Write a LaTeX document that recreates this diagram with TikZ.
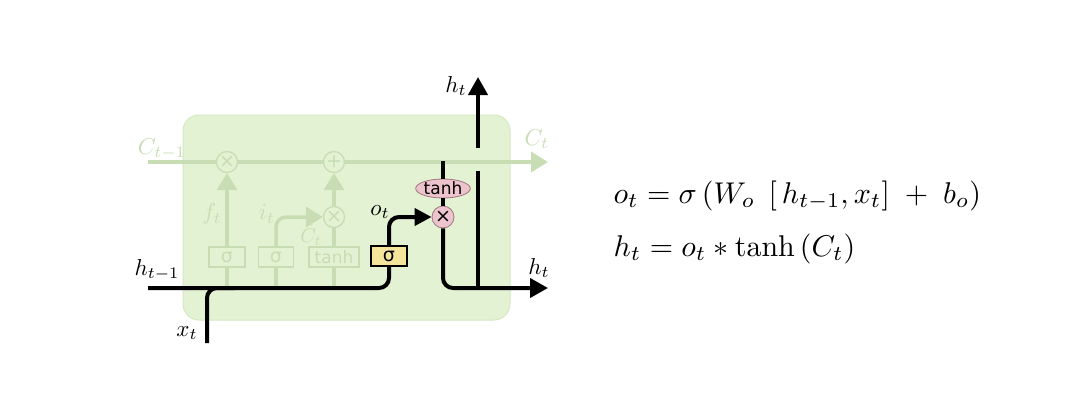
\documentclass[tikz,border=0pt]{standalone}
\usepackage{fontspec}
\newfontfamily\dv{DejaVu Sans}
\usetikzlibrary{arrows.meta,shapes.geometric}
\definecolor{cellfill}{HTML}{E3F2D3}
\definecolor{cellborder}{HTML}{D5E8C2}
\definecolor{fadecol}{HTML}{C8DDB4}
\definecolor{pinkfill}{HTML}{EDC3CD}
\definecolor{pinkdraw}{HTML}{A07880}
\definecolor{yelfill}{HTML}{F4E49C}
\begin{document}
\begin{tikzpicture}[x=1pt,y=-1pt,
  blk/.style={line width=4pt,black,rounded corners=10pt},
  fad/.style={line width=3.5pt,fadecol,rounded corners=10pt},
  btip/.style={-{Triangle[length=18pt,width=19pt]}},
  ftip/.style={-{Triangle[length=17pt,width=20pt]}},
  fbox/.style={draw=fadecol,line width=1.3pt,minimum height=20pt,inner sep=0pt,text=fadecol},
  fcirc/.style={circle,draw=fadecol,line width=1.3pt,minimum size=21pt,inner sep=0pt,text=fadecol},
  sig/.style={font=\dv\fontsize{19}{19}\selectfont},
  tnh/.style={font=\dv\fontsize{17}{17}\selectfont},
  crs/.style={font=\dv\fontsize{19}{19}\selectfont},
  flab/.style={text=fadecol,scale=2.3,inner sep=0pt},
  lab/.style={scale=2.3,inner sep=0pt}]
\useasboundingbox (0,0) rectangle (1068,410);
% cell
\node[draw=cellborder,fill=cellfill,line width=1pt,rounded corners=16pt,minimum width=327pt,minimum height=205pt,inner sep=0pt] (cell) at (346.5,217.5) {};
% faded parts
\node[fcirc,crs] (fx) at (227,162) {×};
\node[fcirc,crs] (fplus) at (334,162) {+};
\node[fcirc,crs] (ix) at (334,217) {×};
\node[fbox,sig,minimum width=36pt] (fsig) at (227,257) {σ};
\node[fbox,sig,minimum width=35pt] (isig) at (276,257) {σ};
\node[fbox,tnh,minimum width=50pt] (ctanh) at (334,257) {tanh};
\coordinate (cin) at (148,162);
\coordinate (cout) at (548,162);
\draw[fad,ftip] (cin) -- (fx) -- (fplus) -- (cout);
\coordinate (fb) at (227,288);
\coordinate (ib) at (276,288);
\coordinate (cb) at (334,288);
\draw[fad] (fb) -- (fsig.south);
\draw[fad] (ib) -- (isig.south);
\draw[fad] (cb) -- (ctanh.south);
\draw[fad,ftip] (fsig.north) -- (fx.south);
\draw[fad,ftip] (isig.north) |- (ix.west);
\draw[fad] (ctanh.north) -- (ix.south);
\draw[fad,ftip] (ix.north) -- (fplus.south);
\node[flab] (lcm) at (162,149) {$C_{t-1}$};
\node[flab] (lc) at (537,139) {$C_t$};
\node[flab] (lf) at (212,214) {$f_t$};
\node[flab] (li) at (267,214) {$i_t$};
\node[flab,scale=0.87] (lct) at (311,235) {$\tilde{C}_t$};
% black parts
\node[draw=black,fill=yelfill,line width=1.3pt,minimum width=36pt,minimum height=20pt,inner sep=0pt,sig] (osig) at (389,256) {σ};
\node[circle,draw=pinkdraw,fill=pinkfill,line width=0.8pt,minimum size=22pt,inner sep=0pt,crs] (ox) at (443,217) {×};
\node[ellipse,draw=pinkdraw,fill=pinkfill,line width=0.8pt,minimum width=50pt,minimum height=19pt,inner sep=0pt,tnh] (otanh) at (443,188.5) {tanh};
\coordinate (hin) at (148,288);
\coordinate (xin) at (207,343);
\coordinate (xj) at (235,288);
\coordinate (ctap) at (443,161);
\coordinate (hout) at (548,288);
\coordinate (vb) at (478,288);
\coordinate (vm) at (478,171);
\coordinate (vt) at (478,148);
\coordinate (vtop) at (478,77);
\draw[blk] (hin) -| (osig.south);
\draw[blk] (xin) |- (xj);
\draw[blk,-{Triangle[length=17pt,width=17pt]}] (osig.north) |- (ox.west);
\draw[blk] (ctap) -- (otanh.north);
\draw[blk] (otanh.south) -- (ox.north);
\draw[blk,btip] (ox.south) |- (hout);
\draw[line width=4pt] (vb) -- (vm);
\draw[line width=4pt,btip] (vt) -- (vtop);
\node[lab] (lht) at (456,86) {$h_t$};
\node[lab] (lhr) at (539,268) {$h_t$};
\node[lab] (lhm) at (157,270) {$h_{t-1}$};
\node[lab] (lx) at (187,333) {$x_t$};
\node[lab] (lo) at (380,212) {$o_t$};
% equations
\node[anchor=base west,inner sep=0pt,scale=3] (eq1) at (613,203) {$o_t = \sigma\left(W_o\;\left[\,h_{t-1},x_t\right]\;+\;b_o\right)$};
\node[anchor=base west,inner sep=0pt,scale=3] (eq2) at (613,256) {$h_t = o_t * \tanh\left(C_t\right)$};
\end{tikzpicture}
\end{document}
